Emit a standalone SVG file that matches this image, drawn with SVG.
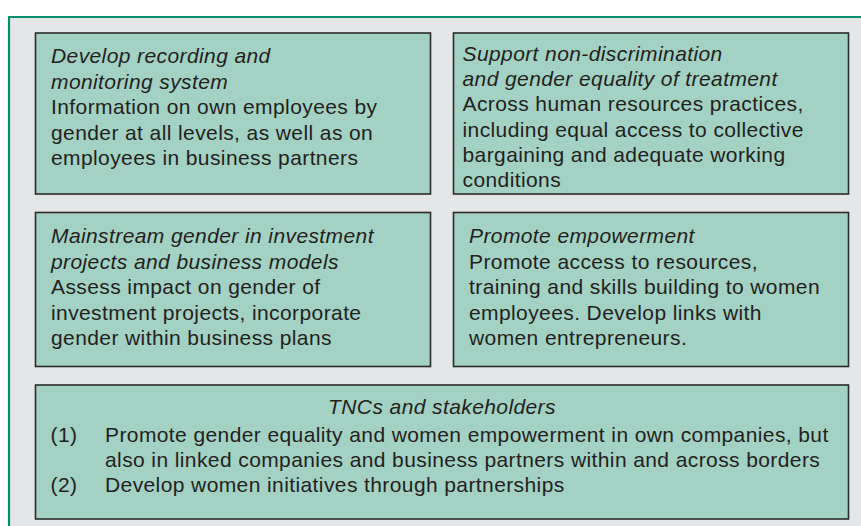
<svg xmlns="http://www.w3.org/2000/svg" width="861" height="526" viewBox="0 0 861 526">
<style>
.box{fill:#a3d1c3;stroke:#2b2b2b;stroke-width:1.6}
text{font-family:"Liberation Sans",Arial,sans-serif;font-size:21px;letter-spacing:0.4px;fill:#231f20}
.it{font-style:italic}
</style>
<rect x="0" y="0" width="861" height="526" fill="#ffffff"/>
<rect x="9" y="17" width="852" height="509" fill="#e5e6e7"/>
<path d="M9 526 V17 H861" fill="none" stroke="#00926f" stroke-width="2.2"/>
<g id="node-recording">
<rect class="box" x="35.5" y="33" width="395" height="161"/>
<text x="51" y="63"><tspan class="it">Develop recording and</tspan><tspan class="it" x="51" dy="25.6">monitoring system</tspan><tspan x="51" dy="25.6">Information on own employees by</tspan><tspan x="51" dy="25.6">gender at all levels, as well as on</tspan><tspan x="51" dy="25.6">employees in business partners</tspan></text>
</g>
<g id="node-nondiscrimination">
<rect class="box" x="453.5" y="33" width="395" height="161"/>
<text x="462.5" y="61"><tspan class="it">Support non-discrimination</tspan><tspan class="it" x="462.5" dy="25.2">and gender equality of treatment</tspan><tspan x="462.5" dy="25.2">Across human resources practices,</tspan><tspan x="462.5" dy="25.2">including equal access to collective</tspan><tspan x="462.5" dy="25.2">bargaining and adequate working</tspan><tspan x="462.5" dy="25.2">conditions</tspan></text>
</g>
<g id="node-mainstream">
<rect class="box" x="35.5" y="212.5" width="395" height="154"/>
<text x="51" y="243"><tspan class="it">Mainstream gender in investment</tspan><tspan class="it" x="51" dy="25.5">projects and business models</tspan><tspan x="51" dy="25.5">Assess impact on gender of</tspan><tspan x="51" dy="25.5">investment projects, incorporate</tspan><tspan x="51" dy="25.5">gender within business plans</tspan></text>
</g>
<g id="node-empowerment">
<rect class="box" x="453.5" y="212.5" width="395" height="154"/>
<text x="469" y="243"><tspan class="it">Promote empowerment</tspan><tspan x="469" dy="25.5">Promote access to resources,</tspan><tspan x="469" dy="25.5">training and skills building to women</tspan><tspan x="469" dy="25.5">employees. Develop links with</tspan><tspan x="469" dy="25.5">women entrepreneurs.</tspan></text>
</g>
<g id="node-tncs">
<rect class="box" x="35.5" y="385" width="813" height="134"/>
<text class="it" x="442" y="414" text-anchor="middle">TNCs and stakeholders</text>
<text x="50.5" y="441.5">(1)</text>
<text x="105" y="441.5">Promote gender equality and women empowerment in own companies, but</text>
<text x="105" y="466.5">also in linked companies and business partners within and across borders</text>
<text x="50.5" y="491.5">(2)</text>
<text x="105" y="491.5">Develop women initiatives through partnerships</text>
</g>
<g id="connectors"></g>
</svg>
